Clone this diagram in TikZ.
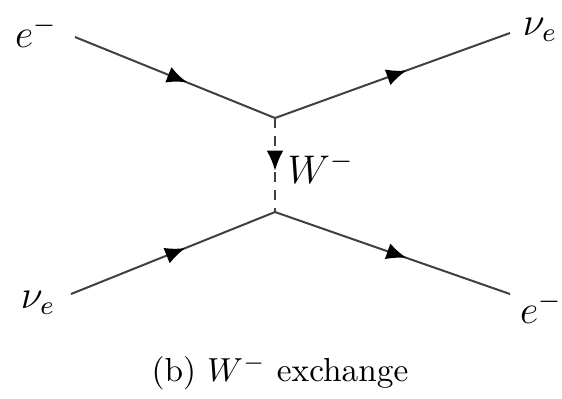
\documentclass[tikz,border=0pt]{standalone}
\usepackage{amsmath}
\usetikzlibrary{arrows.meta,decorations.markings}

\begin{document}
\begin{tikzpicture}[
  x=0.3pt, y=-0.3pt,
  fermion/.style={
    draw=black!75, line width=0.6pt,
    postaction={decorate},
    decoration={markings,
      mark=at position 0.56 with {\arrow[black]{Latex[length=6pt,width=5pt]}}}
  },
  boson/.style={
    fermion, dash pattern=on 3pt off 2.4pt
  },
  particle/.style={font=\large, inner sep=0pt}
]
\useasboundingbox (0,0) rectangle (562,398);

% Vertices
\coordinate (vtop) at (275,118);
\coordinate (vbot) at (275,212);

% External legs
\coordinate (ein)   at (75,37);
\coordinate (nuout) at (510,33);
\coordinate (nuin)  at (71,294);
\coordinate (eout)  at (510,294);

\node[particle] (lein)   at (36,32)   {$e^-$};
\node[particle] (lnuout) at (540,30)  {$\nu_e$};
\node[particle] (lnuin)  at (38,303)  {$\nu_e$};
\node[particle] (leout)  at (541,308) {$e^-$};

\draw[fermion] (ein) -- (vtop);
\draw[fermion] (vtop) -- (nuout);
\draw[fermion] (nuin) -- (vbot);
\draw[fermion] (vbot) -- (eout);

% W exchange
\draw[boson] (vtop) -- (vbot);
\node[particle, anchor=west] (lw) at (287,168) {$W^-$};

% Caption
\node (caption) at (280,372) {(b) $W^-$ exchange};
\end{tikzpicture}
\end{document}
